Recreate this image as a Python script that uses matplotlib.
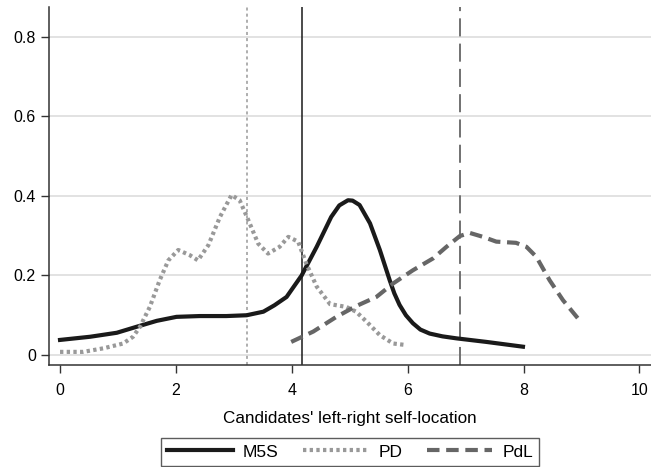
import matplotlib
matplotlib.use('Agg')
import matplotlib.pyplot as plt

plt.rcParams['font.family'] = ['Liberation Sans', 'DejaVu Sans']

# density curves
m5s_x = [0, 0.52, 0.98, 1.32, 1.67, 2.01, 2.41, 2.87, 3.22, 3.51, 3.7, 3.91, 4.17, 4.43, 4.68,
         4.82, 4.97, 5.05, 5.17, 5.35, 5.52, 5.69, 5.77, 5.86, 5.97, 6.09, 6.22, 6.38, 6.6, 6.84, 7.36, 7.99]
m5s_y = [0.038, 0.046, 0.056, 0.071, 0.086, 0.096, 0.098, 0.098, 0.1, 0.109, 0.125, 0.146, 0.2, 0.272, 0.347,
         0.376, 0.389, 0.388, 0.377, 0.331, 0.264, 0.188, 0.155, 0.126, 0.1, 0.08, 0.064, 0.054, 0.047, 0.042, 0.033, 0.021]

pd_x = [0, 0.4, 0.75, 1.09, 1.26, 1.38, 1.55, 1.72, 1.87, 2.04, 2.24, 2.38, 2.56, 2.76, 2.96, 3.1, 3.25,
        3.42, 3.59, 3.79, 3.94, 4.11, 4.25, 4.43, 4.66, 4.94, 5.11, 5.29, 5.52, 5.75, 5.98]
pd_y = [0.008, 0.008, 0.017, 0.029, 0.046, 0.071, 0.121, 0.188, 0.238, 0.264, 0.251, 0.238, 0.276, 0.347, 0.402, 0.389, 0.339,
        0.28, 0.255, 0.272, 0.297, 0.285, 0.23, 0.172, 0.128, 0.121, 0.109, 0.084, 0.05, 0.029, 0.025]

pdl_x = [3.99, 4.37, 4.77, 5.11, 5.46, 5.75, 6.09, 6.44, 6.67, 6.9, 7.07, 7.3, 7.53, 7.87, 8.05, 8.22, 8.45, 8.68, 8.94]
pdl_y = [0.033, 0.059, 0.096, 0.123, 0.146, 0.18, 0.213, 0.243, 0.272, 0.299, 0.307, 0.297, 0.285, 0.282, 0.272, 0.247, 0.188, 0.138, 0.092]

# mean self-locations
m5s_mean = 4.18
pd_mean = 3.22
pdl_mean = 6.91

fig = plt.figure(figsize=(6.51, 4.67), dpi=100)
ax = fig.add_axes([0.0753, 0.2184, 0.9247, 0.767])

ax.plot(m5s_x, m5s_y, color='#1a1a1a', lw=3, solid_joinstyle='round', label='M5S', zorder=3)
ax.plot(pd_x, pd_y, color='#999999', lw=3, linestyle=(0, (0.8, 0.8)), label='PD', zorder=3)
ax.plot(pdl_x, pdl_y, color='#666666', lw=3, linestyle=(0, (3, 1.6)), label='PdL', zorder=3)

ax.axvline(m5s_mean, color='#1a1a1a', lw=1.1, zorder=2)
ax.axvline(pd_mean, color='#999999', lw=1.1, linestyle=(0, (2, 2)), zorder=2)
ax.axvline(pdl_mean, color='#666666', lw=1.3, linestyle=(0, (10, 4)), zorder=2)

ax.set_xlim(-0.19, 10.2)
ax.set_ylim(-0.025, 0.875)
ax.set_xticks([0, 2, 4, 6, 8, 10])
ax.set_yticks([0, 0.2, 0.4, 0.6, 0.8])
ax.set_yticklabels(['0', '0.2', '0.4', '0.6', '0.8'])
ax.grid(axis='y', color='#dddddd', lw=1.2, zorder=0)
ax.set_axisbelow(True)

for s in ['top', 'right']:
    ax.spines[s].set_visible(False)
for s in ['left', 'bottom']:
    ax.spines[s].set_color('#333333')
    ax.spines[s].set_linewidth(1.1)
ax.tick_params(colors='#333333', labelcolor='black', labelsize=11.5, length=6, width=1)
ax.tick_params(axis='x', pad=7)

ax.set_xlabel("Candidates' left-right self-location", fontsize=12.3, labelpad=9)

leg = fig.legend(loc='lower center', bbox_to_anchor=(0.538, 0.003), ncol=3, fontsize=12.5,
                 frameon=True, fancybox=False, edgecolor='#333333', handlelength=3.75,
                 columnspacing=1.4, handletextpad=0.6, borderpad=0.35, borderaxespad=0)
leg.get_frame().set_linewidth(1)

fig.savefig('out.png', dpi=100)
